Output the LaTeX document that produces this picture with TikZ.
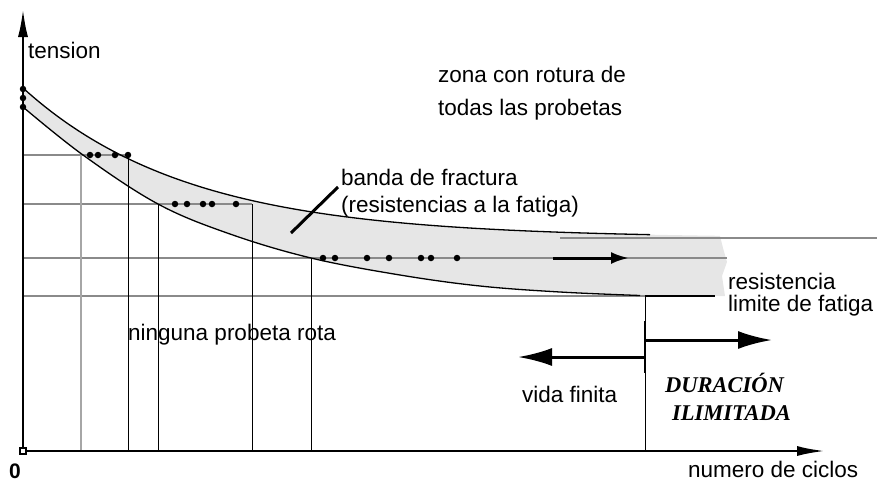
\documentclass[tikz,border=0pt]{standalone}
\usepackage{fontspec}
\setmainfont{Liberation Sans}
\newfontfamily\serifbi{Liberation Serif}
\usetikzlibrary{arrows.meta}
\definecolor{bandc}{HTML}{E6E6E6}
\definecolor{gline}{HTML}{8A8A8A}
\begin{document}
\begin{tikzpicture}[x=1pt,y=-1pt,
  lbl/.style={anchor=base west, inner sep=0pt, font=\fontsize{22.5}{26}\selectfont},
  durlbl/.style={anchor=base west, inner sep=0pt, font=\serifbi\fontsize{22.5}{26}\selectfont\bfseries\itshape},
  gridg/.style={draw=gline, line width=1.3pt},
  gridk/.style={draw=black, line width=1pt},
  curve/.style={draw=black, line width=1.3pt},
  axis/.style={line width=2.4pt, -{Latex[length=28pt,width=10pt]}},
  bigarrow/.style={line width=3pt, -{Latex[length=34pt,width=18pt]}},
  dot/.style={circle, fill=black, inner sep=0pt, minimum size=6.5pt},
]
\useasboundingbox (0,0) rectangle (877,483);

% fracture band
\fill[bandc] plot[domain=23:720,samples=120] (\x,{238-150*exp(-(\x-23)/165)})
  -- (723,248) -- (727,262) -- (722,276) -- (725,296)
  -- plot[smooth,tension=0.6] coordinates {(715,296) (640,295.5) (560,292) (480,286) (400,275) (311,258) (230,234) (158,204) (83,155) (23,107)} -- cycle;

% horizontal grid lines
\coordinate (h1a) at (23,155); \coordinate (h1b) at (128,155);
\coordinate (h2a) at (23,204); \coordinate (h2b) at (252,204);
\coordinate (h3a) at (23,258); \coordinate (h3b) at (727,258);
\coordinate (h4a) at (23,296); \coordinate (h4b) at (645,296); \coordinate (h4c) at (715,296);
\coordinate (h5a) at (560,238); \coordinate (h5b) at (877,238);
\draw[gridg] (h1a) -- (h1b);
\draw[gridg] (h2a) -- (h2b);
\draw[gridg] (h3a) -- (h3b);
\draw[gridg] (h4a) -- (h4b);
\draw[gridg] (h5a) -- (h5b);
\draw[black, line width=2pt] (h4b) -- (h4c);

% curves
\draw[curve] plot[domain=23:650,samples=120] (\x,{238-150*exp(-(\x-23)/165)});
\draw[curve] plot[smooth,tension=0.6] coordinates {(23,107) (83,155) (158,204) (230,234) (311,258) (400,275) (480,286) (560,292) (640,295.5)};

% vertical lines
\coordinate (v1a) at (81,155);  \coordinate (v1b) at (81,451);
\coordinate (v2a) at (128,155); \coordinate (v2b) at (128,451);
\coordinate (v3a) at (158,204); \coordinate (v3b) at (158,451);
\coordinate (v4a) at (252,204); \coordinate (v4b) at (252,451);
\coordinate (v5a) at (311,258); \coordinate (v5b) at (311,451);
\coordinate (v6a) at (645,296); \coordinate (v6b) at (645,451);
\draw[gridg, draw=gray!70] (v1a) -- (v1b);
\draw[gridk] (v2a) -- (v2b);
\draw[gridk] (v3a) -- (v3b);
\draw[gridk] (v4a) -- (v4b);
\draw[gridk] (v5a) -- (v5b);
\draw[gridk] (v6a) -- (v6b);
\coordinate (v6c) at (645,321); \coordinate (v6d) at (645,373);
\draw[black, line width=2.6pt] (v6c) -- (v6d);

% data points
\foreach \px/\py in {23/89,23/98,23/107,
  90/155,98/155,115/155,128/155,
  175/204,187/204,203/204,212/204,236/204,
  323/258,335/258,367/258,389/258,421/258,431/258,457/258}
  \node[dot] at (\px,\py) {};

% axes
\coordinate (o) at (23,451);
\coordinate (ytip) at (23,9);
\coordinate (xtip) at (825,451);
\draw[axis] (o) -- (ytip);
\draw[axis] (o) -- (xtip);
\node[draw=black, fill=white, line width=1.2pt, minimum size=6pt, inner sep=0pt] (orig) at (o) {};

% band arrow
\coordinate (ba) at (553,258); \coordinate (bb) at (629,258);
\draw[line width=3pt, -{Latex[length=18pt,width=12pt]}] (ba) -- (bb);

% leader line
\coordinate (la) at (338,187); \coordinate (lb) at (291,233);
\draw[line width=3pt] (la) -- (lb);

% life arrows
\coordinate (ra) at (645,340); \coordinate (rb) at (772,340);
\coordinate (fa) at (645,357); \coordinate (fb) at (518,357);
\draw[bigarrow] (ra) -- (rb);
\draw[bigarrow] (fa) -- (fb);

% labels
\node[lbl] (tension) at (28,58) {tension};
\node[lbl] (zona1) at (438,82) {zona con rotura de};
\node[lbl] (zona2) at (438,115) {todas las probetas};
\node[lbl] (banda1) at (341,185) {banda de fractura};
\node[lbl] (banda2) at (341,212) {(resistencias a la fatiga)};
\node[anchor=north west, inner sep=0pt, align=left, font=\fontsize{22.5}{21.5}\selectfont] (res) at (728,273) {resistencia\\limite de fatiga};
\node[lbl] (ning) at (128,340) {ninguna probeta rota};
\node[lbl] (vida) at (522,402) {vida finita};
\node[durlbl] (dur1) at (665,392) {DURACIÓN};
\node[durlbl] (dur2) at (672,420) {ILIMITADA};
\node[lbl] (ciclos) at (688,477) {numero de ciclos};
\node[inner sep=0pt, font=\bfseries\fontsize{21}{24}\selectfont] (cero) at (15,471) {0};
\end{tikzpicture}
\end{document}
